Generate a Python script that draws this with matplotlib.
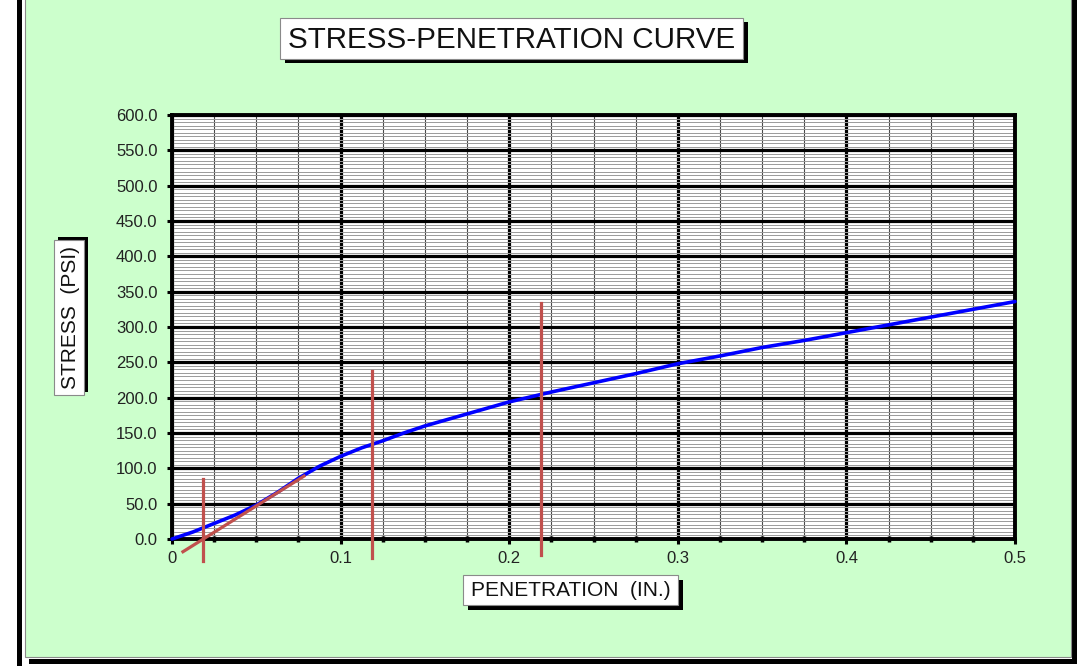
import matplotlib
matplotlib.use("Agg")
import matplotlib.pyplot as plt
import numpy as np
from matplotlib.patches import Rectangle
from matplotlib.ticker import MultipleLocator

plt.rcParams['font.family'] = ['Liberation Sans', 'DejaVu Sans']

# penetration readings (in.) and stress (psi)
penetration = [0.0, 0.0125, 0.025, 0.0375, 0.05, 0.0625, 0.075, 0.0875, 0.1, 0.1125, 0.125,
               0.1375, 0.15, 0.175, 0.2, 0.225, 0.25, 0.275, 0.3, 0.325, 0.35, 0.375,
               0.4, 0.425, 0.45, 0.475, 0.5]
stress = [0.0, 10.0, 22.0, 34.0, 48.0, 66.0, 86.0, 103.0, 117.0, 129.0, 139.0,
          150.0, 160.0, 177.0, 194.0, 208.0, 221.0, 234.0, 248.0, 259.0, 271.0, 281.0,
          292.0, 303.0, 314.0, 325.0, 336.0]

# corrected-zero construction lines
tangent_x = [0.0065, 0.0783]
tangent_y = [-18.0, 89.0]
marker_x = [0.0186, 0.1186, 0.2186]
marker_top = [85.0, 238.0, 334.0]
marker_bottom = [-31.0, -27.0, -23.0]

x_ticks = [0.0, 0.1, 0.2, 0.3, 0.4, 0.5]
x_tick_labels = ['0', '0.1', '0.2', '0.3', '0.4', '0.5']
y_ticks = np.arange(0, 601, 50)

title = 'STRESS-PENETRATION CURVE'
x_label = 'PENETRATION  (IN.)'
y_label = 'STRESS  (PSI)'

W, H = 1077, 666
fig = plt.figure(figsize=(W / 100, H / 100), dpi=100, facecolor='white')


def box(x0, y0, x1, y1, z=-10, **kw):
    # rectangle given in pixels from the top-left corner
    r = Rectangle((x0 / W, 1 - y1 / H), (x1 - x0) / W, (y1 - y0) / H,
                  transform=fig.transFigure, zorder=z, **kw)
    fig.add_artist(r)
    return r


# chart area with frame and shadow
box(17, 0, 22, H, facecolor='black', edgecolor='none')
box(29, 659, W, 664, facecolor='black', edgecolor='none')
box(1072, 0, W, 664, facecolor='black', edgecolor='none')
box(24.5, -2, 1071, 657, facecolor='#ccffcc', edgecolor='#8a8a8a', linewidth=0.8)

# labels in white boxes with black drop shadows
box(285, 22, 748, 63, facecolor='black', edgecolor='none')
box(280, 18, 743, 59, facecolor='white', edgecolor='#8a8a8a', linewidth=0.8)
fig.text(512 / W, 1 - 39.5 / H, title, fontsize=21.3, ha='center', va='center', color='#111')

box(468, 580, 683, 610, facecolor='black', edgecolor='none')
box(463, 575, 678, 605, facecolor='white', edgecolor='#8a8a8a', linewidth=0.8)
fig.text(570.5 / W, 1 - 591 / H, x_label, fontsize=15, ha='center', va='center', color='#111')

box(58, 237, 88, 392, facecolor='black', edgecolor='none')
box(54, 240, 84, 395, facecolor='white', edgecolor='#8a8a8a', linewidth=0.8)
fig.text(70 / W, 1 - 317.5 / H, y_label, fontsize=15, ha='center', va='center',
         rotation=90, color='#111')

ax = fig.add_axes([172 / W, 1 - 539 / H, (1015 - 172) / W, (539 - 115) / H])
ax.set_facecolor('white')
ax.set_xlim(0, 0.5)
ax.set_ylim(0, 600)

ax.set_xticks(x_ticks)
ax.set_xticklabels(x_tick_labels)
ax.xaxis.set_minor_locator(MultipleLocator(0.025))
ax.set_yticks(y_ticks)
ax.set_yticklabels(['%.1f' % v for v in y_ticks])
ax.yaxis.set_minor_locator(MultipleLocator(5))

ax.tick_params(axis='both', which='major', labelsize=12, labelcolor='#222',
               width=2.2, length=3.5, color='black', direction='out')
ax.tick_params(axis='y', which='major', pad=7)
ax.tick_params(axis='x', which='major', pad=5)
ax.tick_params(axis='x', which='minor', direction='inout', length=5, width=2.5, color='black')
ax.tick_params(axis='y', which='minor', length=0)

ax.set_axisbelow(True)
ax.grid(which='major', color='black', linewidth=2.3)
ax.grid(which='minor', axis='y', color='#9a9a9a', linewidth=0.7)
ax.grid(which='minor', axis='x', color='#4a4a4a', linewidth=0.8)

for s in ax.spines.values():
    s.set_linewidth(2.8)
    s.set_color('black')

ax.plot(penetration, stress, color='#0000ff', linewidth=2.6, zorder=3,
        solid_capstyle='round', solid_joinstyle='round', clip_on=False)

red = '#c0504d'
ax.plot(tangent_x, tangent_y, color=red, linewidth=2.3, zorder=4, clip_on=False)
for xv, yb, yt in zip(marker_x, marker_bottom, marker_top):
    ax.plot([xv, xv], [yb, yt], color=red, linewidth=2.3, zorder=4, clip_on=False)

fig.savefig('out.png', dpi=100, facecolor=fig.get_facecolor())
